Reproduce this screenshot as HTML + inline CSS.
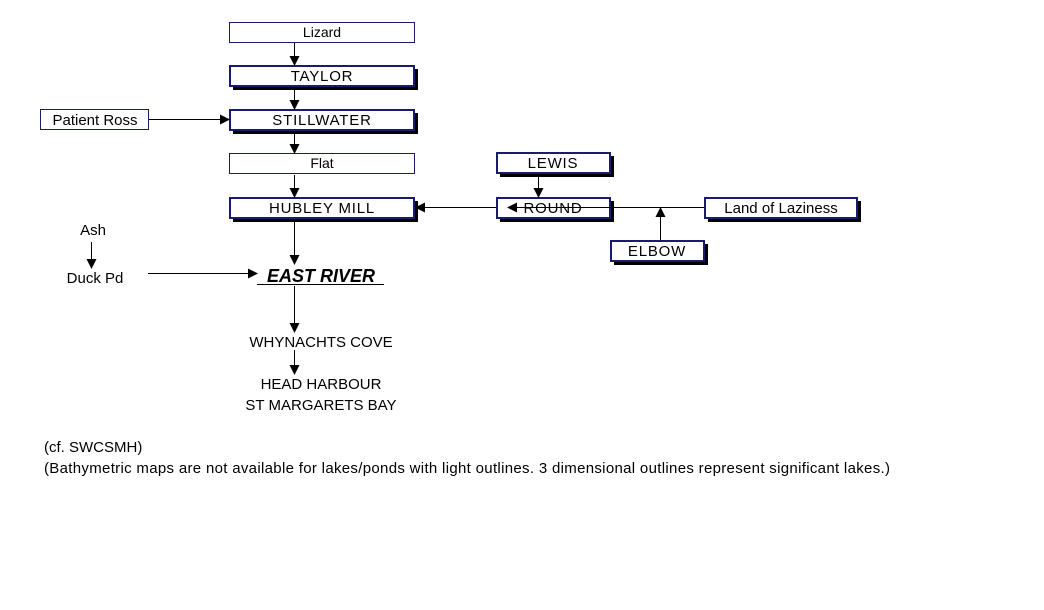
<!DOCTYPE html>
<html><head><style>body{margin:0;background:#fff}svg{display:block}</style></head><body>
<svg width="1044" height="610" xmlns="http://www.w3.org/2000/svg" font-family="Liberation Sans, Arial, sans-serif" font-size="15">
<defs><marker id="a" markerWidth="10" markerHeight="10" refX="9" refY="5" orient="auto" markerUnits="userSpaceOnUse"><path d="M0,0 L10,5 L0,10z" fill="#000"/></marker></defs>
<g fill="#fff" stroke="#1a1a6e" stroke-width="1">
<rect x="229.5" y="22.5" width="185" height="20"/>
<rect x="229.5" y="153.5" width="185" height="20"/>
<rect x="40.5" y="109.5" width="108" height="20"/>
</g>
<g fill="#000">
<rect x="233" y="69" width="185" height="21"/>
<rect x="233" y="113" width="185" height="21"/>
<rect x="233" y="201" width="185" height="21"/>
<rect x="500" y="156" width="114" height="21"/>
<rect x="500" y="201" width="114" height="21"/>
<rect x="708" y="201" width="153" height="21"/>
<rect x="614" y="244" width="94" height="21"/>
</g>
<g fill="#fff" stroke="#1a1a6e" stroke-width="2">
<rect x="230" y="66" width="184" height="20"/>
<rect x="230" y="110" width="184" height="20"/>
<rect x="230" y="198" width="184" height="20"/>
<rect x="497" y="153" width="113" height="20"/>
<rect x="497" y="198" width="113" height="20"/>
<rect x="705" y="198" width="152" height="20"/>
<rect x="611" y="241" width="93" height="20"/>
</g>
<g stroke="#000" stroke-width="1" fill="none" marker-end="url(#a)">
<line x1="294.5" y1="43" x2="294.5" y2="65"/>
<line x1="294.5" y1="87" x2="294.5" y2="109"/>
<line x1="294.5" y1="131" x2="294.5" y2="153"/>
<line x1="294.5" y1="175" x2="294.5" y2="197"/>
<line x1="294.5" y1="219" x2="294.5" y2="264"/>
<line x1="294.5" y1="286" x2="294.5" y2="332"/>
<line x1="294.5" y1="350" x2="294.5" y2="374"/>
<line x1="149" y1="119.5" x2="229" y2="119.5"/>
<line x1="91.5" y1="242" x2="91.5" y2="268"/>
<line x1="148" y1="273.5" x2="257" y2="273.5"/>
<line x1="538.5" y1="174" x2="538.5" y2="197"/>
<line x1="704" y1="207.5" x2="508" y2="207.5"/>
<line x1="496" y1="207.5" x2="416" y2="207.5"/>
<line x1="660.5" y1="240" x2="660.5" y2="208"/>
</g>
<g text-anchor="middle" fill="#000">
<text x="322" y="37" font-size="14">Lizard</text>
<text x="322" y="81" letter-spacing="0.8">TAYLOR</text>
<text x="322" y="125" letter-spacing="0.8">STILLWATER</text>
<text x="322" y="168" font-size="14">Flat</text>
<text x="322" y="213" letter-spacing="0.8">HUBLEY MILL</text>
<text x="95" y="125">Patient Ross</text>
<text x="553" y="168" letter-spacing="0.8">LEWIS</text>
<text x="553" y="213" letter-spacing="0.8">ROUND</text>
<text x="781" y="213">Land of Laziness</text>
<text x="657" y="256" letter-spacing="0.8">ELBOW</text>
<text x="93" y="235">Ash</text>
<text x="95" y="283">Duck Pd</text>
<text x="321" y="282" font-weight="bold" font-style="italic" font-size="18">EAST RIVER</text>
<text x="321" y="347">WHYNACHTS COVE</text>
<text x="321" y="389">HEAD HARBOUR</text>
<text x="321" y="410">ST MARGARETS BAY</text>
</g>
<line x1="257" y1="284.5" x2="384" y2="284.5" stroke="#000"/>
<text x="44" y="452" fill="#000">(cf. SWCSMH)</text>
<text x="44" y="473" fill="#000" textLength="846" lengthAdjust="spacing">(Bathymetric maps are not available for lakes/ponds with light outlines. 3 dimensional outlines represent significant lakes.)</text>
</svg>
</body></html>
